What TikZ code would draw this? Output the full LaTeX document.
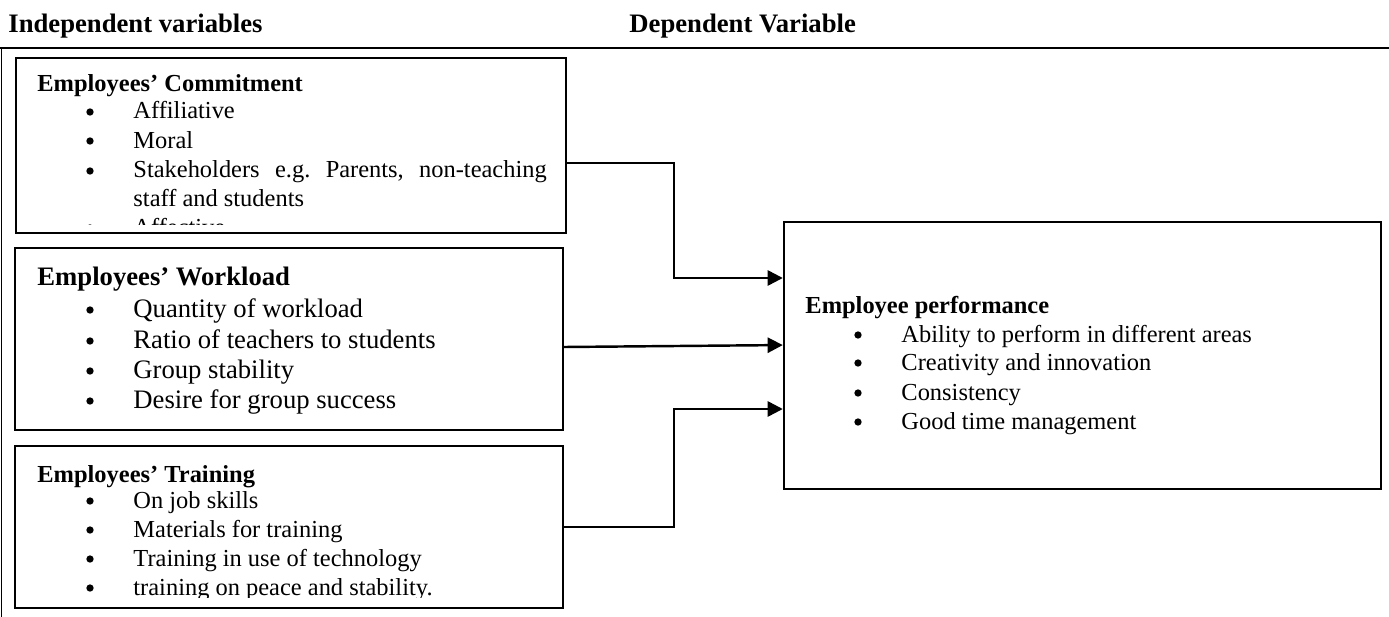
\documentclass[tikz,border=0pt]{standalone}
\usepackage{fontspec}
\setmainfont{Liberation Serif}
\usetikzlibrary{arrows.meta, fit}

% one bullet line: name, bullet x, baseline y, text
\newcommand{\listitem}[4]{%
  \node[bul] (#1b) at (#2,#3-7) {};
  \node[txt] (#1) at (#2+43,#3) {#4};}

\tikzset{
  varbox/.style={draw, line width=1.1pt, inner sep=0pt},
  txt/.style={inner sep=0pt, anchor=base west},
  bul/.style={circle, fill, inner sep=0pt, minimum size=3.3pt},
  conn/.style={line width=1.1pt, -{Triangle[length=6.8pt,width=6.8pt]}},
  small/.style={font=\fontsize{11}{13}\selectfont},
  big/.style={font=\fontsize{12}{14}\selectfont},
}

\begin{document}
\begin{tikzpicture}[x=0.45pt, y=-0.45pt]
 \useasboundingbox (0,0) rectangle (1389,617);

 % headings and table rules
 \node[txt, big] (indep) at (8,33) {\textbf{Independent variables}};
 \node[txt, big] (dep) at (629,33) {\textbf{Dependent Variable}};
 \draw[line width=1.2pt] (0,48) -- (1389,48);
 \draw[line width=0.6pt] (1.5,48) -- (1.5,617);

 % commitment
 \begin{scope}[small]
 \clip (16,58) rectangle (566,224);
 \node[txt] (commitT) at (37,92) {\textbf{Employees’ Commitment}};
 \listitem{affil}{90}{119}{Affiliative}
 \listitem{moral}{90}{148}{Moral}
 \listitem{stake}{90}{178}{\hbox to 186pt{Stakeholders\hfill e.g.\hfill Parents,\hfill non-teaching}}
 \node[txt] (staff) at (133,206) {staff and students};
 \listitem{affect}{90}{235}{Affective}
 \end{scope}
 \node[varbox, fit={(16,58) (566,233)}] (commit) {};

 % workload
 \begin{scope}[big]
 \node[txt] (workT) at (37,285) {\textbf{Employees’ Workload}};
 \listitem{quant}{90}{317}{Quantity of workload}
 \listitem{ratio}{90}{348}{Ratio of teachers to students}
 \listitem{stab}{90}{378}{Group stability}
 \listitem{desire}{90}{408}{Desire for group success}
 \end{scope}
 \node[varbox, fit={(15,248) (563,430)}] (work) {};

 % training
 \begin{scope}[small]
 \clip (15,446) rectangle (563,597);
 \node[txt] (trainT) at (37,482) {\textbf{Employees’ Training}};
 \listitem{skills}{90}{508}{On job skills}
 \listitem{mater}{90}{537}{Materials for training}
 \listitem{techn}{90}{566}{Training in use of technology}
 \listitem{peace}{90}{595}{training on peace and stability.}
 \end{scope}
 \node[varbox, fit={(15,446) (563,608)}] (train) {};

 % performance
 \begin{scope}[small]
 \node[txt] (perfT) at (805,313) {\textbf{Employee performance}};
 \listitem{abil}{858}{342}{Ability to perform in different areas}
 \listitem{creat}{858}{370}{Creativity and innovation}
 \listitem{consis}{858}{400}{Consistency}
 \listitem{timem}{858}{429}{Good time management}
 \end{scope}
 \node[varbox, fit={(784,222) (1381,489)}] (perf) {};

 % arrows
 \coordinate (bend1) at (674,163);
 \coordinate (bend2) at (674,278);
 \coordinate (bend3) at (674,409);
 \draw[conn] (commit.east |- bend1) -- (bend1) -- (bend2) -- (perf.west |- bend2);
 \draw[conn] ([yshift=-3.6pt]work.east) -- ([yshift=4.7pt]perf.west);
 \draw[conn] (train.east) -| (bend3) -- (perf.west |- bend3);

\end{tikzpicture}
\end{document}
